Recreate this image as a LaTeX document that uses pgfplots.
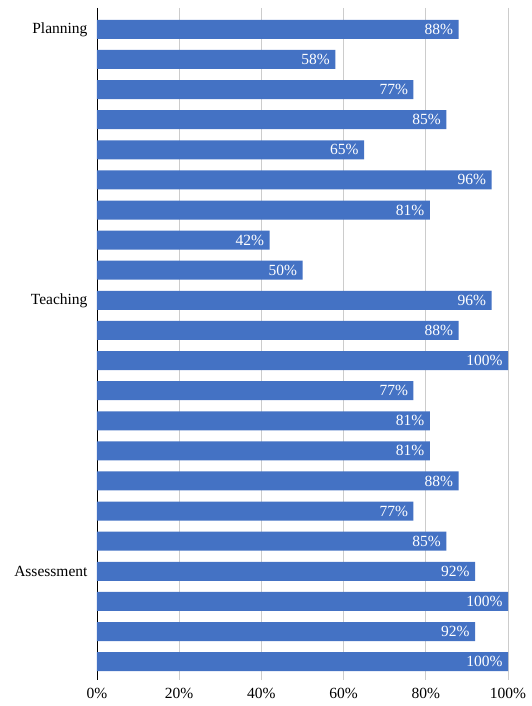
\documentclass[border=0pt]{standalone}
\usepackage{fontspec}
\setmainfont{Liberation Serif}
\usepackage{pgfplots}
\pgfplotsset{compat=1.18}
\definecolor{barblue}{HTML}{4472C4}
\definecolor{gridgray}{HTML}{CCCCCC}
\begin{document}
\begin{tikzpicture}
\begin{axis}[
  name=ax,
  at={(0,0)}, anchor=south west,
  scale only axis,
  width=411pt, height=672pt,
  xbar, bar width=19pt,
  y dir=reverse,
  xmin=0, xmax=100,
  ymin=0.29, ymax=22.61,
  axis lines=left,
  axis line style={-},
  x axis line style={draw=none},
  y axis line style={black, line width=0.9pt},
  xmajorgrids, grid style={gridgray, line width=0.9pt},
  major tick length=0pt,
  xtick={0,20,40,60,80,100},
  xticklabel={\pgfmathprintnumber{\tick}\%},
  ytick={1,10,19},
  yticklabels={Planning,Teaching,Assessment},
  tick label style={font=\fontsize{15.5}{18}\selectfont},
  /pgf/number format/assume math mode=true,
  xticklabel style={yshift=-5pt},
  yticklabel style={xshift=-6pt},
  point meta=x,
  nodes near coords={\pgfmathprintnumber{\pgfplotspointmeta}\%},
  every node near coord/.append style={anchor=east, xshift=-2pt, text=white, font=\fontsize{15.5}{18}\selectfont},
]
\addplot[fill=barblue, draw=none] coordinates {
(88,1) (58,2) (77,3) (85,4) (65,5) (96,6) (81,7) (42,8) (50,9)
(96,10) (88,11) (100,12) (77,13) (81,14) (81,15) (88,16) (77,17) (85,18)
(92,19) (100,20) (92,21) (100,22)
};
\end{axis}
\useasboundingbox ([xshift=-97pt,yshift=-26pt]ax.south west) rectangle ([xshift=24pt,yshift=8pt]ax.north east);
\end{tikzpicture}
\end{document}
